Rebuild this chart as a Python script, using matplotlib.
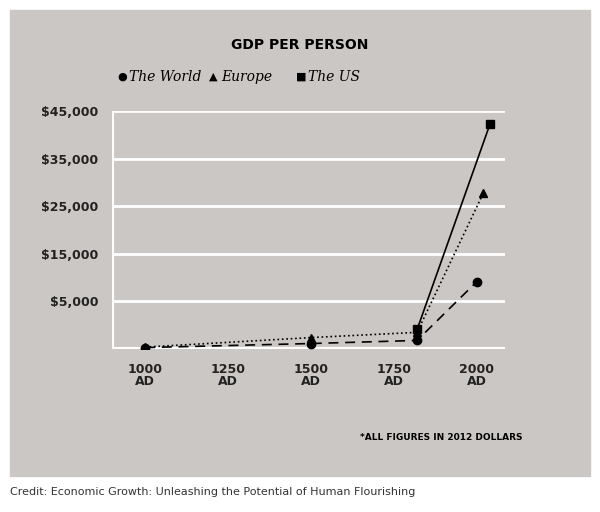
import matplotlib.pyplot as plt
import matplotlib.patches as mpatches

# values (axis baseline sits at -5000)
world_x = [1000, 1500, 1820, 2000]
world_y = [-4700, -3850, -3200, 9150]
europe_x = [1000, 1500, 1820, 2020]
europe_y = [-4600, -2600, -1500, 27800]
us_x = [1820, 2040]
us_y = [-900, 42300]
xticks = [1000, 1250, 1500, 1750, 2000]
xlabels = ['1000\nAD', '1250\nAD', '1500\nAD', '1750\nAD', '2000\nAD']
yticks = [5000, 15000, 25000, 35000, 45000]
ylabels = ['$5,000', '$15,000', '$25,000', '$35,000', '$45,000']

bg = '#cbc7c4'
fig = plt.figure(figsize=(6, 5.12), dpi=100)
fig.patch.set_facecolor('white')
fig.patches.append(mpatches.Rectangle((10/600, 1-476/512), 580/600, 466/512,
                                      transform=fig.transFigure, color=bg, zorder=-1))

ax = fig.add_axes([112/600, 1-349/512, 393/600, 238/512])
ax.set_facecolor(bg)
ax.plot(world_x, world_y, 'k--', marker='o', ms=6, lw=1.2, dashes=(6, 4))
ax.plot(europe_x, europe_y, 'k:', marker='^', ms=6, lw=1.2)
ax.plot(us_x, us_y, 'k-', marker='s', ms=5.5, lw=1.2)
ax.set_ylim(-5000, 45000)
ax.set_xlim(900, 2085)
for v in yticks:
    ax.axhline(v, color='white', lw=2, zorder=0)
ax.axhline(-5000, color='white', lw=3, zorder=0)
ax.axvline(900, color='white', lw=3, zorder=0)
for s in ax.spines.values():
    s.set_visible(False)
ax.set_yticks(yticks)
ax.set_yticklabels(ylabels, fontsize=9, fontweight='bold', color='#222222')
ax.set_xticks(xticks)
ax.set_xticklabels(xlabels, fontsize=9, fontweight='bold', color='#222222', linespacing=0.9)
ax.tick_params(length=0, pad=10)

fig.text(0.5, 1-45/512, 'GDP PER PERSON', ha='center', va='center', fontsize=10, fontweight='bold')
leg = [('●', 'The World', 117), ('▲', 'Europe', 209), ('■', 'The US', 296)]
for sym, name, x in leg:
    fig.text(x/600, 1-77/512, sym, ha='left', va='center', fontsize=8)
    fig.text((x+12)/600, 1-77/512, name, ha='left', va='center', fontsize=10,
             family='DejaVu Serif', style='italic')
fig.text(360/600, 1-437/512, '*ALL FIGURES IN 2012 DOLLARS', ha='left', va='center',
         fontsize=6.5, fontweight='bold')
fig.text(10/600, 1-492/512, 'Credit: Economic Growth: Unleashing the Potential of Human Flourishing',
         ha='left', va='center', fontsize=8, color='#333333')
fig.savefig('out.png', dpi=100, facecolor=fig.get_facecolor())
